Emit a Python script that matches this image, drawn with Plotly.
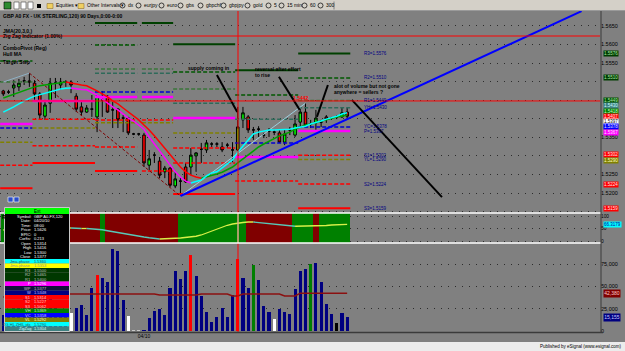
import plotly.graph_objects as go

FONT = "Liberation Sans, Arial, sans-serif"

# ---------------- data ----------------
bars = list(range(67))

opens = [1.5475, 1.5472, 1.5483, 1.5486, 1.5502, 1.5502, 1.5496, 1.5467, 1.5407, 1.5442,
         1.5496, 1.5491, 1.5499, 1.5499, 1.5461, 1.5432, 1.5418, 1.5426, 1.5405, 1.5451,
         1.5461, 1.5424, 1.5426, 1.5402, 1.5402, 1.5359, 1.5359, 1.5356, 1.5275, 1.5302,
         1.5286, 1.5257, 1.5267, 1.5219, 1.5232, 1.5270, 1.5270, 1.5300, 1.5318, 1.5316,
         1.5332, 1.5332, 1.5324, 1.5329, 1.5316, 1.5316, 1.5397, 1.5405, 1.5370, 1.5372,
         1.5356, 1.5367, 1.5364, 1.5362, 1.5337, 1.5370, 1.5356, 1.5391, 1.5418, 1.5386,
         1.5389, 1.5391, 1.5405, 1.5402, 1.5405, 1.5405, 1.5418]
highs = [1.5478, 1.5478, 1.5504, 1.5507, 1.5513, 1.5523, 1.5504, 1.5472, 1.5451, 1.5510,
         1.5510, 1.5510, 1.5504, 1.5504, 1.5469, 1.5445, 1.5437, 1.5464, 1.5464, 1.5475,
         1.5464, 1.5445, 1.5429, 1.5410, 1.5405, 1.5362, 1.5362, 1.5362, 1.5316, 1.5310,
         1.5297, 1.5273, 1.5270, 1.5257, 1.5240, 1.5281, 1.5321, 1.5310, 1.5335, 1.5343,
         1.5337, 1.5337, 1.5337, 1.5335, 1.5337, 1.5432, 1.5432, 1.5410, 1.5378, 1.5380,
         1.5362, 1.5375, 1.5370, 1.5370, 1.5370, 1.5378, 1.5410, 1.5426, 1.5442, 1.5397,
         1.5424, 1.5397, 1.5410, 1.5405, 1.5410, 1.5429, 1.5429]
lows = [1.5461, 1.5467, 1.5459, 1.5475, 1.5491, 1.5486, 1.5451, 1.5397, 1.5397, 1.5416,
        1.5456, 1.5478, 1.5486, 1.5469, 1.5418, 1.5410, 1.5416, 1.5405, 1.5364, 1.5405,
        1.5416, 1.5375, 1.5375, 1.5364, 1.5356, 1.5356, 1.5354, 1.5270, 1.5262, 1.5281,
        1.5240, 1.5240, 1.5216, 1.5213, 1.5192, 1.5227, 1.5248, 1.5257, 1.5281, 1.5308,
        1.5324, 1.5324, 1.5310, 1.5321, 1.5283, 1.5313, 1.5375, 1.5362, 1.5343, 1.5351,
        1.5348, 1.5351, 1.5356, 1.5335, 1.5329, 1.5356, 1.5351, 1.5378, 1.5378, 1.5375,
        1.5370, 1.5378, 1.5389, 1.5397, 1.5399, 1.5402, 1.5397]
closes = [1.5467, 1.5472, 1.5491, 1.5496, 1.5502, 1.5499, 1.5467, 1.5410, 1.5437, 1.5496,
          1.5496, 1.5499, 1.5499, 1.5491, 1.5426, 1.5418, 1.5429, 1.5426, 1.5461, 1.5451,
          1.5418, 1.5424, 1.5397, 1.5402, 1.5362, 1.5359, 1.5359, 1.5281, 1.5292, 1.5302,
          1.5248, 1.5267, 1.5221, 1.5238, 1.5232, 1.5230, 1.5302, 1.5308, 1.5318, 1.5335,
          1.5332, 1.5332, 1.5316, 1.5329, 1.5316, 1.5378, 1.5416, 1.5370, 1.5370, 1.5372,
          1.5356, 1.5367, 1.5364, 1.5337, 1.5359, 1.5370, 1.5386, 1.5418, 1.5383, 1.5386,
          1.5402, 1.5391, 1.5399, 1.5402, 1.5405, 1.5416, 1.5407]

# moving average (green rising / red falling)
ma_slow = [1.5456, 1.5461, 1.5467, 1.5472, 1.5477, 1.5482, 1.5486, 1.5489, 1.5491, 1.5494,
           1.5496, 1.5498, 1.5499, 1.5496, 1.5494, 1.5491, 1.5489, 1.5483, 1.5475, 1.5467,
           1.5459, 1.5448, 1.5440, 1.5429, 1.5418, 1.5407, 1.5397, 1.5383, 1.5370, 1.5354,
           1.5337, 1.5321, 1.5302, 1.5286, 1.5270, 1.5257, 1.5248, 1.5243, 1.5240, 1.5243,
           1.5247, 1.5251, 1.5256, 1.5262, 1.5270, 1.5281, 1.5292, 1.5302, 1.5313, 1.5324,
           1.5332, 1.5340, 1.5348, 1.5354, 1.5359, 1.5364, 1.5372, 1.5378, 1.5383, 1.5386,
           1.5391, 1.5394, 1.5397, 1.5402, 1.5405, 1.5407, 1.5410]
# JMA (cyan rising / magenta falling)
ma_jma = [1.5418, 1.5424, 1.5432, 1.5440, 1.5448, 1.5455, 1.5461, 1.5465, 1.5470, 1.5474,
          1.5477, 1.5480, 1.5482, 1.5483, 1.5480, 1.5479, 1.5478, 1.5472, 1.5464, 1.5453,
          1.5442, 1.5432, 1.5424, 1.5413, 1.5402, 1.5394, 1.5383, 1.5372, 1.5351, 1.5332,
          1.5316, 1.5297, 1.5278, 1.5257, 1.5243, 1.5232, 1.5227, 1.5230, 1.5235, 1.5246,
          1.5254, 1.5257, 1.5267, 1.5278, 1.5289, 1.5310, 1.5326, 1.5343, 1.5359, 1.5364,
          1.5367, 1.5370, 1.5370, 1.5370, 1.5372, 1.5372, 1.5375, 1.5378, 1.5380, 1.5386,
          1.5389, 1.5394, 1.5399, 1.5402, 1.5407, 1.5413, 1.5416]

volume = [17900, 21000, 30000, 26000, 38000, 45000, 33000, 60000, 52000, 41000,
          29000, 24000, 18000, 20200, 25800, 29100, 17900, 48200, 62800, 59400,
          54900, 91900, 89700, 34800, 16800, 600, 600, 1100, 14600, 22400,
          24700, 17900, 48200, 67300, 58300, 67300, 85200, 61700, 39200, 21300,
          10100, 15700, 25800, 15700, 40400, 80700, 59400, 48200, 74000, 57200,
          28000, 21300, 13500, 24700, 21300, 19100, 47100, 67300, 69500, 75100,
          76200, 54900, 30300, 19100, 9000, 20200, 15155]
volume_kind = ['n', 'n', 'n', 'n', 'n', 'n', 'n', 'n', 'n', 'n',
               'n', 'n', 'n', 'w', 'n', 'n', 'n', 'n', 'r', 'n',
               'n', 'n', 'n', 'n', 'w', 's', 's', 'n', 'n', 'n',
               'n', 'n', 'n', 'n', 'n', 'n', 'r', 'n', 'n', 'n',
               'n', 'n', 'n', 'n', 'n', 'r', 'n', 'n', 'g', 'n',
               'n', 'n', 'w', 'n', 'n', 'n', 'n', 'n', 'n', 'g',
               'n', 'n', 'n', 'n', 'k', 'n', 'n']
volume_avg = [38100, 38600, 39000, 39500, 40000, 40500, 41000, 41200, 41400, 41500,
              41500, 41500, 41500, 41500, 41500, 41500, 41500, 41500, 41500, 41500,
              41500, 41500, 41500, 41500, 41500, 41500, 41500, 41500, 41500, 41500,
              40400, 40400, 40400, 40400, 40400, 40400, 40400, 40400, 41500, 41500,
              41500, 41500, 41500, 41500, 39200, 39200, 41500, 41500, 41500, 41500,
              41500, 41500, 41500, 41500, 39200, 39200, 39200, 42400, 42400, 42400,
              42400, 42400, 42400, 42400, 42400, 42400, 42380]

osc_state = ['U'] + ['D'] * 18 + ['U'] + ['D'] * 14 + ['U'] * 13 + ['D'] * 9 + ['U'] * 4 + ['D'] + ['U'] * 6
osc_line = [44, 46, 48, 50, 52, 54, 55, 55, 55, 54,
            53, 53, 52, 52, 51, 50, 50, 49, 48, 45,
            41, 37, 33, 29, 25, 22, 19, 16, 13, 10,
            8, 8, 9, 11, 12, 14, 16, 19, 24, 32,
            42, 50, 57, 63, 68, 72, 74, 76, 76, 74,
            72, 70, 67, 64, 62, 60, 59, 59, 60, 60,
            60, 61, 62, 64, 65, 66, 66.3179]

# daily pivot segments (bar index span) and level prices
day_start = [-0.6, 5.6, 17.6, 26.6, 32.6, 44.5, 56.6]
day_end = [5.6, 17.6, 25.7, 32.6, 44.5, 56.6, 66.6]
lvl_R3 = [None, None, 1.5658, 1.5658, 1.5601, 1.5531, 1.5576]
lvl_R2 = [1.5556, None, 1.5599, None, 1.5526, 1.5464, 1.5510]
lvl_R1 = [1.5499, None, 1.5534, 1.5534, 1.5480, None, 1.5449]
lvl_YH = [None, None, 1.5523, 1.5523, 1.5442, 1.5399, 1.5430]
lvl_YC = [1.5375, None, 1.5472, 1.5472, None, 1.5335, 1.5378]
lvl_P = [1.5386, 1.5448, 1.5459, 1.5459, 1.5402, 1.5297, 1.5367]
lvl_S1 = [None, 1.5399, 1.5397, 1.5397, 1.5321, None, 1.5302]
lvl_YL = [1.5337, 1.5375, 1.5389, 1.5389, 1.5362, None, 1.5290]
lvl_S2 = [1.5275, 1.5327, 1.5324, 1.5259, 1.5281, 1.5232, 1.5224]
lvl_S3 = [1.5213, 1.5281, 1.5259, None, 1.5197, None, 1.5159]

zz_bar = [0, 5, 34, 58]
zz_price = [1.5499, 1.5523, 1.5192, 1.5442]
trend_bar = [34, 111]
trend_price = [1.5192, 1.5690]

note_bar = [(41.0, 44.9), (52.9, 56.9), (62.3, 60.2), (66.9, 84.2)]
note_price = [(1.5518, 1.5418), (1.5513, 1.5424), (1.5491, 1.5405), (1.5451, 1.5189)]
note_text = ["supply coming in", "reversal after effort", "to rise",
             "alot of volume but not gone", "anywhere = sellers ?"]
note_text_bar = [35.1, 47.9, 47.9, 63.1, 63.1]
note_text_price = [1.5537, 1.5534, 1.5518, 1.5488, 1.5472]

cross_bar = 45.05
cross_price = 1.5448
last_price = 1.5623

price_ticks = [1.5150, 1.5200, 1.5250, 1.5300, 1.5350, 1.5400, 1.5450, 1.5500, 1.5550, 1.5600, 1.5650]
price_tick_shown = [False, True, True, False, True, False, False, False, True, True, True]
osc_ticks = [0, 50, 100]
vol_ticks = [0, 25000, 50000, 75000]
axis_box_values = [1.5576, 1.5510, 1.5449, 1.5430, 1.5418, 1.5407, 1.5397, 1.5378, 1.5367,
                   1.5302, 1.5290, 1.5224, 1.5159]
axis_box_style = [('#003c00', '#a8e8a8'), ('#003c00', '#a8e8a8'), ('#005000', '#a8e8a8'),
                  ('#3f8080', '#c8ffff'), ('#008000', '#c8ffc8'), ('#ff0000', '#ffe0e0'),
                  ('#ffffff', '#000000'), ('#0000ff', '#e0e0ff'), ('#ff00ff', '#ffe0ff'),
                  ('#ff0000', '#ffe0e0'), ('#808000', '#ffffc0'), ('#ff0000', '#ffe0e0'),
                  ('#ff0000', '#ffe0e0')]

dw_info = [("Symbol:", "GBP A0-FX,120"), ("Date:", "04/20/10"), ("Time:", "08:00"),
           ("Price:", "1.5626"), ("EPIC:", "0"), ("Corfts:", "0.213"), ("Open", "1.5314"),
           ("High", "1.5416"), ("Low", "1.5300"), ("Close", "1.5377")]
dw_rows = [("Jma-phase", "1.5360"), ("Jma-phase", "1.5353"), ("R3", "1.5500"), ("R2", "1.5465"),
           ("R1", "1.5400"), ("P", "1.5296"), ("WP", "1.5377"), ("W", "1.5348"), ("S1", "1.5314"),
           ("S2", "1.5227"), ("S3", "1.5062"), ("VH", "1.5369"), ("VC", "1.5358"), ("VL", "1.5292"),
           ("ZIG HL ZHIL idx", "1.5290"), ("ZigZag", "1.5304")]
dw_row_style = [('#00ffff', '#404040'), ('#ffff00', '#909090'), ('#003800', '#c0c0c0'),
                ('#003800', '#c0c0c0'), ('#003800', '#c0c0c0'), ('#ff00ff', '#ffffff'),
                ('#10103a', '#c0c0c0'), ('#000080', '#c0c0ff'), ('#ff0000', '#ffd0d0'),
                ('#ff0000', '#ffd0d0'), ('#ff0000', '#ffd0d0'), ('#008000', '#d0ffd0'),
                ('#0000ff', '#d0d0ff'), ('#808000', '#ffffd0'), ('#00ffff', '#206060'),
                ('#408080', '#d0ffff')]

toolbar_items = ["dx", "eurjpy", "euro", "gbs", "gbpchf", "gbpjpy", "gold", "5", "15 min", "60", "300"]
toolbar_x = [120, 136, 159, 178, 198, 221, 245, 266, 279, 302, 318]

# ---------------- geometry helpers (layout only) ----------------
W, H = 625, 351
ML, MR, MT, MB = 0, 25, 11, 19
PW, PH = W - ML - MR, H - MT - MB


def px(x):
    return (x - ML) / PW


def py(y):
    return (H - MB - y) / PH


XR = [(0 - 3.3) / 5.21, (600 - 3.3) / 5.21]
YR = [1.51461, 1.56904]
OR = [-8, 112]
VR = [-1121, 98655]
PRICE_PER_PX = (YR[1] - YR[0]) / (213 - 11)

fig = go.Figure()


def add_line(x, y, color, width, dash='solid', xa='x', ya='y'):
    fig.add_trace(go.Scatter(x=x, y=y, mode='lines', xaxis=xa, yaxis=ya,
                             line=dict(color=color, width=width, dash=dash),
                             hoverinfo='skip', showlegend=False, connectgaps=False))


# pivot levels
level_series = [
    (lvl_R3, '#004000', 2, 'solid'), (lvl_R2, '#005800', 1.5, '4px,2px'),
    (lvl_R1, '#3a763a', 1.5, '4px,2px'), (lvl_YH, '#2f6a5a', 1.5, '4px,2px'),
    (lvl_YC, '#0000d0', 1.5, '4px,2px'), (lvl_P, '#ff00ff', 2.5, 'solid'),
    (lvl_S1, '#ff0000', 1.5, '4px,2px'), (lvl_YL, '#808000', 1.5, '4px,2px'),
    (lvl_S2, '#ff0000', 1.5, '4px,2px'), (lvl_S3, '#ff0000', 2, 'solid'),
]
for vals, col, wd, dash in level_series:
    xs, ys = [], []
    for s, e, v in zip(day_start, day_end, vals):
        if v is None:
            continue
        xs += [s, e, None]
        ys += [v, v, None]
    add_line(xs, ys, col, wd, dash)

# zigzag
add_line(zz_bar[0:2], zz_price[0:2], '#8fb0c4', 1)
add_line(zz_bar[1:3], zz_price[1:3], '#800000', 1, '3px,2px')
add_line(zz_bar[2:4], zz_price[2:4], '#9cd0e0', 1)


def dir_runs(vals):
    runs = []
    cx, cy, cu = [0], [vals[0]], None
    for i in range(1, len(vals)):
        up = vals[i] >= vals[i - 1]
        if cu is None:
            cu = up
        elif up != cu:
            runs.append((cx, cy, cu))
            cx, cy, cu = [i - 1], [vals[i - 1]], up
        cx.append(i)
        cy.append(vals[i])
    runs.append((cx, cy, cu))
    return runs


for rx, ry, up in dir_runs(ma_slow):
    add_line(rx, ry, '#00a000' if up else '#ff0000', 1.5)
for rx, ry, up in dir_runs(ma_jma):
    add_line(rx, ry, '#00ffff' if up else '#ff00ff', 1.5)

fig.add_trace(go.Candlestick(
    x=bars, open=opens, high=highs, low=lows, close=closes, xaxis='x', yaxis='y',
    increasing=dict(fillcolor='#00ff00', line=dict(color='black', width=1)),
    decreasing=dict(fillcolor='#ff0000', line=dict(color='black', width=1)),
    whiskerwidth=0, hoverinfo='skip', showlegend=False))

add_line(trend_bar, trend_price, '#0000ff', 2)
for (b0, b1), (p0, p1) in zip(note_bar, note_price):
    add_line([b0, b1], [p0, p1], '#000000', 2)

# oscillator panel
band_col = {'U': '#008000', 'D': '#800000'}
fig.add_trace(go.Bar(x=bars, y=[OR[1] - OR[0] + 20] * len(bars), base=OR[0] - 10,
                     marker=dict(color=[band_col[s] for s in osc_state], line=dict(width=0)),
                     width=1.0, xaxis='x2', yaxis='y2', hoverinfo='skip', showlegend=False))
for rx, ry, up in dir_runs(osc_line):
    add_line(rx, ry, '#d8f048' if up else '#58c8b8', 1.3, xa='x2', ya='y2')

# volume panel
vol_col = {'n': '#000080', 'w': '#ffffff', 'r': '#ff0000', 'g': '#008000', 'k': '#000000', 's': '#c8c8c8'}
fig.add_trace(go.Bar(x=bars, y=volume, marker=dict(color=[vol_col[k] for k in volume_kind], line=dict(width=0)),
                     width=0.6, xaxis='x3', yaxis='y3', hoverinfo='skip', showlegend=False))
add_line(bars, volume_avg, '#8b1010', 1.5, xa='x3', ya='y3')

shapes = []
ann = []


def rect(x0, y0, x1, y1, fill, line=None, lw=0):
    shapes.append(dict(type='rect', xref='paper', yref='paper', x0=px(x0), x1=px(x1),
                       y0=py(y1), y1=py(y0), fillcolor=fill, layer='above',
                       line=dict(color=line if line else fill, width=lw)))


def hline(x0, x1, y, color, w=1):
    shapes.append(dict(type='line', xref='paper', yref='paper', x0=px(x0), x1=px(x1),
                       y0=py(y), y1=py(y), line=dict(color=color, width=w), layer='above'))


def text(x, y, s, size=5, color='black', anchor='left', bold=False):
    ann.append(dict(xref='paper', yref='paper', x=px(x), y=py(y), showarrow=False,
                    text=('<b>%s</b>' % s) if bold else s, xanchor=anchor, yanchor='middle',
                    font=dict(size=size, color=color, family=FONT), borderpad=0))


# crosshair / price lines
shapes.append(dict(type='line', xref='x', yref='paper', x0=cross_bar, x1=cross_bar, y0=0, y1=1,
                   line=dict(color='#ff0000', width=1), layer='above'))
shapes.append(dict(type='line', xref='x', yref='paper', x0=cross_bar, x1=cross_bar, y0=py(243), y1=py(213),
                   line=dict(color='#d0ffd0', width=1), layer='above'))
for pr in (cross_price, last_price):
    shapes.append(dict(type='line', xref='paper', yref='y', x0=0, x1=1, y0=pr, y1=pr,
                       line=dict(color='#ff0000', width=1), layer='above'))

# separators and frame
hline(0, 601, 213, '#ffffff', 1.5)
hline(0, 601, 243, '#ffffff', 1.5)
hline(0, 603, 332.5, '#3a3a3a', 1.5)
shapes.append(dict(type='line', xref='paper', yref='paper', x0=px(601), x1=px(601), y0=py(332), y1=py(11),
                   line=dict(color='#3a3a3a', width=1), layer='above'))

# toolbar
rect(0, 0, 625, 10.5, '#d4d0c8')
hline(0, 625, 10.5, '#9a9a9a', 1)
rect(4, 2, 11, 9, '#2e8b2e', '#000000', 0.6)
for x0 in (14, 21, 28):
    rect(x0, 2, x0 + 5, 9, '#ffffff', '#404040', 0.6)
rect(37, 4, 41, 8, '#000000')
rect(47, 3.5, 53, 8.5, '#f0d060', '#806020', 0.5)
text(55, 5.5, "Equities ▾", 5)
rect(78, 3.5, 84, 8.5, '#f0d060', '#806020', 0.5)
text(86, 5.5, "Other Intervals ▾", 5)
for lab, x0 in zip(toolbar_items, toolbar_x):
    shapes.append(dict(type='circle', xref='paper', yref='paper', x0=px(x0), x1=px(x0 + 5),
                       y0=py(8), y1=py(3), line=dict(color='#000000', width=0.7), layer='above'))
    text(x0 + 6.5, 5.5, lab, 5)
shapes.append(dict(type='line', xref='paper', yref='paper', x0=px(334), x1=px(334), y0=py(9.5), y1=py(1.5),
                   line=dict(color='#808080', width=1), layer='above'))

# bottom strip
rect(0, 342, 625, 351, '#ececec')
text(623, 347, "Published by eSignal (www.esignal.com)", 4.5, anchor='right')

# chart texts
text(2, 16.5, "GBP A0 FX - UK STERLING,120) 90 Days,0:00-0:00", 5, bold=True)
text(2, 31, "JMA(20,3,0,)", 5, bold=True)
text(2, 36, "Zig Zag Indicator (1.00%)", 5, bold=True)
text(2, 48, "ComboPivot (Reg)", 5, bold=True)
text(2, 54, "Hull MA", 5, bold=True)
text(2, 62, "Target Step", 5, bold=True)
text(1, 217, "R", 5, bold=True)
rect(8, 197, 13, 202, '#2a4cc8', '#ffffff', 0.6)
rect(14, 197, 19, 202, '#2a4cc8', '#ffffff', 0.6)

for s, b, p in zip(note_text, note_text_bar, note_text_price):
    ann.append(dict(xref='x', yref='y', x=b, y=p, text='<b>%s</b>' % s, showarrow=False,
                    xanchor='left', yanchor='middle', font=dict(size=5, color='black', family=FONT)))
ann.append(dict(xref='x', yref='y', x=zz_bar[-1] - 0.9, y=zz_price[-1] + 0.0014,
                text='<b>%.4f</b>' % zz_price[-1], showarrow=False, xanchor='center', yanchor='middle',
                font=dict(size=5, color='#ff0000', family=FONT)))

# level labels for the last day
for name, vals in (("R3", lvl_R3), ("R2", lvl_R2), ("R1", lvl_R1), ("YH", lvl_YH), ("YC", lvl_YC),
                   ("P", lvl_P), ("S1", lvl_S1), ("YL", lvl_YL), ("S2", lvl_S2), ("S3", lvl_S3)):
    ann.append(dict(xref='x', yref='y', x=68.9, y=vals[-1], text='%s=%.4f' % (name, vals[-1]),
                    showarrow=False, xanchor='left', yanchor='middle',
                    font=dict(size=4.5, color='#000080', family=FONT)))

# right-axis value boxes, stacked so they do not overlap (like the platform does)
gap = 5.3 * PRICE_PER_PX
pos = list(axis_box_values)
for _ in range(60):
    for i in range(len(pos) - 1):
        d = pos[i] - pos[i + 1]
        if d < gap:
            shift = (gap - d) / 2
            pos[i] += shift
            pos[i + 1] -= shift
for v, yv, (bg, fg) in zip(axis_box_values, pos, axis_box_style):
    ann.append(dict(xref='paper', yref='y', x=px(602.5), y=yv, text='%.4f' % v, showarrow=False,
                    xanchor='left', yanchor='middle', bgcolor=bg, borderpad=0,
                    font=dict(size=4.5, color=fg, family=FONT)))
ann.append(dict(xref='paper', yref='y2', x=px(602.5), y=osc_line[-1], text='%.4f' % osc_line[-1],
                showarrow=False, xanchor='left', yanchor='middle', bgcolor='#00ffff', borderpad=0,
                font=dict(size=4.5, color='#0000a0', family=FONT)))
ann.append(dict(xref='paper', yref='y3', x=px(602.5), y=volume_avg[-1], text='{:,}'.format(volume_avg[-1]),
                showarrow=False, xanchor='left', yanchor='middle', bgcolor='#800000', borderpad=0.3,
                font=dict(size=5, color='#ffc8c8', family=FONT)))
ann.append(dict(xref='paper', yref='y3', x=px(602.5), y=volume[-1], text='{:,}'.format(volume[-1]),
                showarrow=False, xanchor='left', yanchor='middle', bgcolor='#000080', borderpad=0.3,
                font=dict(size=5, color='#c8c8ff', family=FONT)))

# data window
rect(5, 208, 69, 214, '#00ff00')
text(37, 211, "Ext", 4.5, anchor='center')
rect(5, 214, 69, 259, '#000000')
for k, (lab, val) in enumerate(dw_info):
    yy = 216.4 + 4.5 * k
    text(31.5, yy, lab, 4, '#ffffff', anchor='right')
    text(33, yy, val, 4, '#ffffff')
for k, ((lab, val), (bg, fg)) in enumerate(zip(dw_rows, dw_row_style)):
    y0 = 259 + 4.5 * k
    rect(5, y0, 69, y0 + 4.5, bg)
    text(31.5, y0 + 2.3, lab, 4, fg, anchor='right')
    text(33, y0 + 2.3, val, 4, fg)
rect(4.5, 207.5, 69.5, 331.5, 'rgba(0,0,0,0)', '#c8c8c8', 1)

grid = dict(showgrid=True, gridcolor='#2c2c2c', griddash='1px,6px', gridwidth=1, zeroline=False,
            ticks='', side='right', showline=False, tickfont=dict(size=5.5, color='black', family=FONT))
osc_grid = dict(grid, tickfont=dict(size=4.8, color='black', family=FONT))

fig.update_layout(
    width=W, height=H, margin=dict(l=ML, r=MR, t=MT, b=MB, pad=0),
    paper_bgcolor='#808080', plot_bgcolor='#808080', showlegend=False, hovermode=False,
    font=dict(family=FONT, size=6, color='black'), bargap=0,
    xaxis=dict(domain=[0, 1], range=XR, anchor='y', type='linear', showticklabels=False, showgrid=False,
               zeroline=False, rangeslider=dict(visible=False)),
    xaxis2=dict(domain=[0, 1], range=XR, anchor='y2', type='linear', showticklabels=False, showgrid=False,
                zeroline=False),
    xaxis3=dict(domain=[0, 1], range=XR, anchor='y3', type='linear', showgrid=False, zeroline=False,
                tickvals=[27], ticktext=['04/10'], ticks='', tickfont=dict(size=5, color='black', family=FONT)),
    yaxis=dict(domain=[py(213), 1], range=YR, anchor='x', tickvals=price_ticks,
               ticktext=[('%.4f' % v) if s else '' for v, s in zip(price_ticks, price_tick_shown)], **grid),
    yaxis2=dict(domain=[py(243), py(213)], range=OR, anchor='x2', tickvals=osc_ticks,
                ticktext=[str(v) for v in osc_ticks], **osc_grid),
    yaxis3=dict(domain=[0, py(243)], range=VR, anchor='x3', tickvals=vol_ticks,
                ticktext=['{:,}'.format(v) for v in vol_ticks], **grid),
    shapes=shapes, annotations=ann,
)

fig.write_html("out.html")
